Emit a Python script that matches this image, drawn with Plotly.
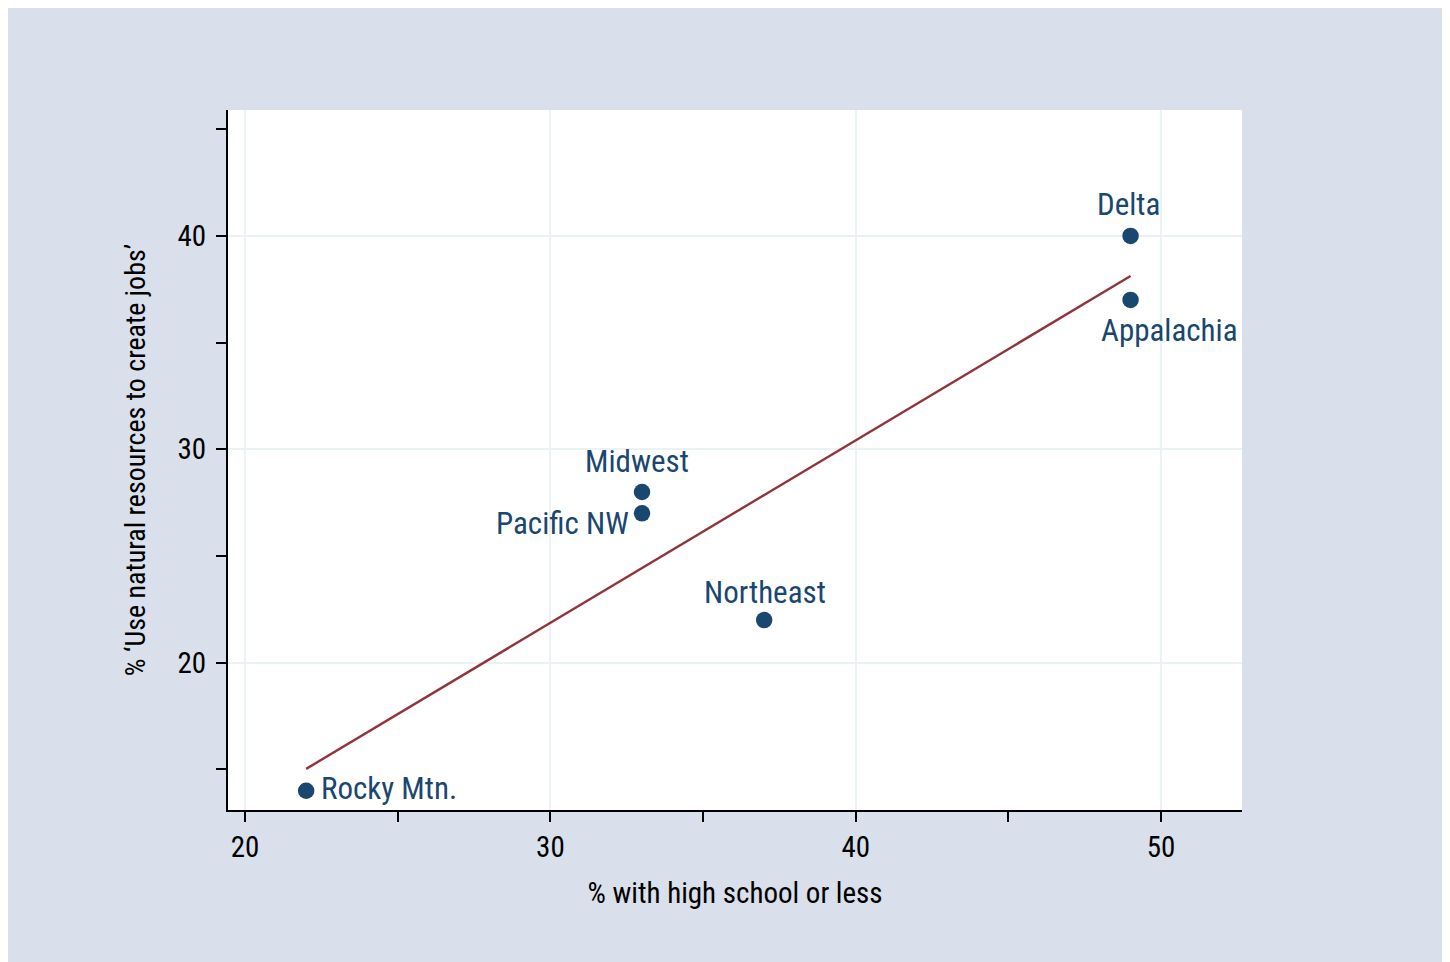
import numpy as np
import plotly.graph_objects as go

# ---- data ----
regions = ["Delta", "Appalachia", "Midwest", "Pacific NW", "Northeast", "Rocky Mtn."]
pct_high_school = [49, 49, 33, 33, 37, 22]
pct_use_resources = [40, 37, 28, 27, 22, 14]
x_ticks = [20, 30, 40, 50]
y_ticks = [20, 30, 40]

# ---- styling ----
FONT = "Roboto Condensed, Liberation Sans Narrow, DejaVu Sans Condensed, sans-serif"
NAVY = "#1a476f"
MAROON = "#90353b"
BG = "#d9dfeb"
GRID = "#eaf2f3"

# label placement (pixel offsets relative to each point)
label_style = {
    "Delta": dict(xanchor="center", xshift=-2, yshift=31),
    "Appalachia": dict(xanchor="left", xshift=-32, yshift=-31),
    "Midwest": dict(xanchor="center", xshift=-5, yshift=31),
    "Pacific NW": dict(xanchor="right", xshift=-11, yshift=-10),
    "Northeast": dict(xanchor="center", xshift=1, yshift=28),
    "Rocky Mtn.": dict(xanchor="left", xshift=13, yshift=2),
}

# linear fit
slope, intercept = np.polyfit(pct_high_school, pct_use_resources, 1)
fit_x = [min(pct_high_school), max(pct_high_school)]
fit_y = [slope * v + intercept for v in fit_x]

fig = go.Figure()
fig.add_trace(go.Scatter(
    x=fit_x, y=fit_y, mode="lines",
    line=dict(color=MAROON, width=2.4), hoverinfo="skip", showlegend=False,
))
fig.add_trace(go.Scatter(
    x=pct_high_school, y=pct_use_resources, mode="markers",
    marker=dict(color=NAVY, size=16.5, line=dict(width=0)),
    text=regions, showlegend=False,
))

for name, xv, yv in zip(regions, pct_high_school, pct_use_resources):
    st = label_style[name]
    fig.add_annotation(
        x=xv, y=yv, text=name, showarrow=False,
        xanchor=st["xanchor"], yanchor="middle",
        xshift=st["xshift"], yshift=st["yshift"],
        font=dict(family=FONT, size=31, color=NAVY),
    )

axis_common = dict(
    showline=True, linecolor="black", linewidth=2,
    ticks="outside", ticklen=10, tickwidth=2, tickcolor="black",
    showgrid=True, gridcolor=GRID, gridwidth=2,
    zeroline=False, mirror=False,
    tickfont=dict(family=FONT, size=29, color="black"),
)

fig.update_xaxes(
    **axis_common,
    range=[19.44, 52.65],
    tickvals=x_ticks, ticktext=[str(v) for v in x_ticks],
    minor=dict(tickvals=[25, 35, 45], ticks="outside", ticklen=10, tickwidth=2,
               tickcolor="black", showgrid=False),
    title=dict(text="% with high school or less",
               font=dict(family=FONT, size=29, color="black"), standoff=20),
)
fig.update_yaxes(
    **axis_common,
    range=[13.1, 45.9],
    tickvals=y_ticks, ticktext=[str(v) for v in y_ticks],
    minor=dict(tickvals=[15, 25, 35, 45], ticks="outside", ticklen=10, tickwidth=2,
               tickcolor="black", showgrid=False),
    ticklabelstandoff=4,
    title=dict(text="% \u2018Use natural resources to create jobs\u2019",
               font=dict(family=FONT, size=28, color="black"), standoff=24),
)

fig.update_layout(
    width=1450, height=962,
    margin=dict(l=220, r=216, t=102, b=160),
    paper_bgcolor=BG, plot_bgcolor="white",
    font=dict(family=FONT, color="black"),
    showlegend=False,
)

fig.write_html("out.html")
